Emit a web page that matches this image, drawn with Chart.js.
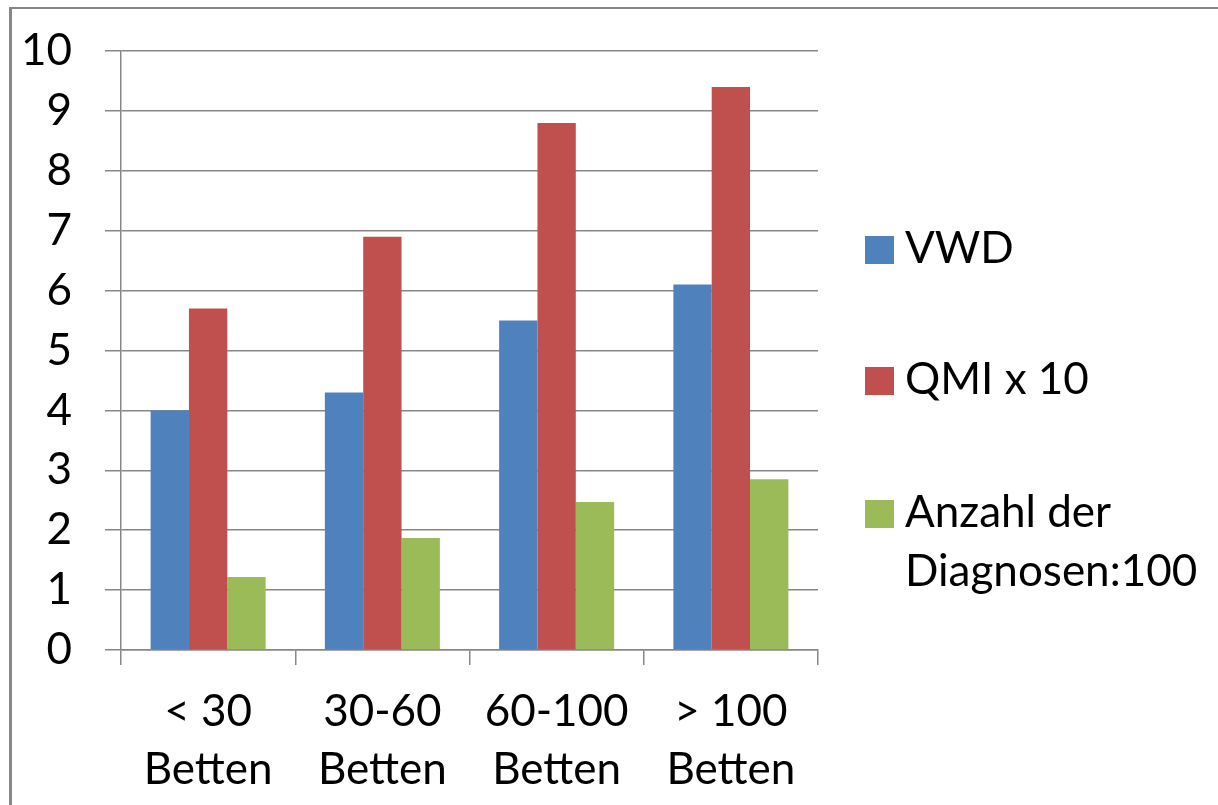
<!DOCTYPE html>
<html>
<head>
<meta charset="utf-8">
<script src="https://cdn.jsdelivr.net/npm/chart.js@4"></script>
<style>
  html, body { margin: 0; padding: 0; background: #fff; }
  body { width: 1218px; height: 805px; position: relative; overflow: hidden; font-family: Lato, "Open Sans", sans-serif; }
  #frame { position: absolute; left: 9px; top: 7px; right: 0; bottom: 0; border-left: 3px solid #878787; border-top: 2px solid #878787; box-sizing: border-box; }
  #wrap { position: absolute; left: 0; top: 0; width: 1218px; height: 805px; }
  #legend { position: absolute; left: 0; top: 0; }
  .item { position: absolute; left: 865px; font-size: 44px; line-height: 59px; color: #000; white-space: nowrap; }
  .sw { position: absolute; left: 0; width: 29px; height: 28px; }
  .txt { position: absolute; left: 40px; top: 0; }
</style>
</head>
<body>
<div id="frame"></div>
<div id="wrap"><canvas id="c" width="1218" height="805"></canvas></div>
<div id="legend"></div>
<script>
const categories = [["< 30", "Betten"], ["30-60", "Betten"], ["60-100", "Betten"], ["> 100", "Betten"]];
const seriesNames = ["VWD", "QMI x 10", ["Anzahl der", "Diagnosen:100"]];
const vwd = [4.0, 4.3, 5.5, 6.1];
const qmi = [5.7, 6.9, 8.8, 9.4];
const anzahl = [1.22, 1.87, 2.47, 2.85];
const yTicks = [0, 1, 2, 3, 4, 5, 6, 7, 8, 9, 10];

const colors = ["#4F81BD", "#C0504D", "#9BBB59"];
const legendTops = [217, 348, 481];
const gridColor = "#878787";
const font = { family: "Lato", size: 44 };

const seriesValues = [vwd, qmi, anzahl];
const datasets = seriesValues.map((vals, i) => ({
  label: Array.isArray(seriesNames[i]) ? seriesNames[i].join(" ") : seriesNames[i],
  data: vals,
  backgroundColor: colors[i],
  borderWidth: 0,
  categoryPercentage: 0.66,
  barPercentage: 1.0
}));

new Chart(document.getElementById("c"), {
  type: "bar",
  data: { labels: categories, datasets },
  options: {
    responsive: false,
    animation: false,
    devicePixelRatio: 1,
    layout: { padding: { left: 0, top: 51, right: 400, bottom: 0 } },
    plugins: { legend: { display: false }, tooltip: { enabled: false } },
    scales: {
      x: {
        afterFit: s => { s.height = 155; s.paddingLeft = 0; s.paddingRight = 0; },
        grid: { display: true, drawOnChartArea: false, drawTicks: true, tickLength: 15, color: gridColor, lineWidth: 1.5, offset: true },
        border: { display: true, color: gridColor, width: 1.5 },
        ticks: { color: "#000", font: Object.assign({ lineHeight: 1.32 }, font), padding: 18, maxRotation: 0, autoSkip: false }
      },
      y: {
        min: 0, max: 10,
        afterFit: s => { s.width = 121; s.paddingTop = 0; s.paddingBottom = 0; },
        afterBuildTicks: s => { s.ticks = yTicks.map(v => ({ value: v })); },
        grid: { color: gridColor, lineWidth: 1.5, drawTicks: true, tickLength: 16 },
        border: { display: true, color: gridColor, width: 1.5 },
        ticks: { color: "#000", font: font, padding: 33 }
      }
    }
  }
});

const legend = document.getElementById("legend");
seriesNames.forEach((name, i) => {
  const item = document.createElement("div");
  item.className = "item";
  item.style.top = legendTops[i] + "px";
  const sw = document.createElement("div");
  sw.className = "sw";
  sw.style.background = colors[i];
  sw.style.top = "19px";
  const txt = document.createElement("div");
  txt.className = "txt";
  const lines = Array.isArray(name) ? name : [name];
  lines.forEach((l, j) => {
    if (j) txt.appendChild(document.createElement("br"));
    txt.appendChild(document.createTextNode(l));
  });
  item.appendChild(sw);
  item.appendChild(txt);
  legend.appendChild(item);
});
</script>
</body>
</html>
